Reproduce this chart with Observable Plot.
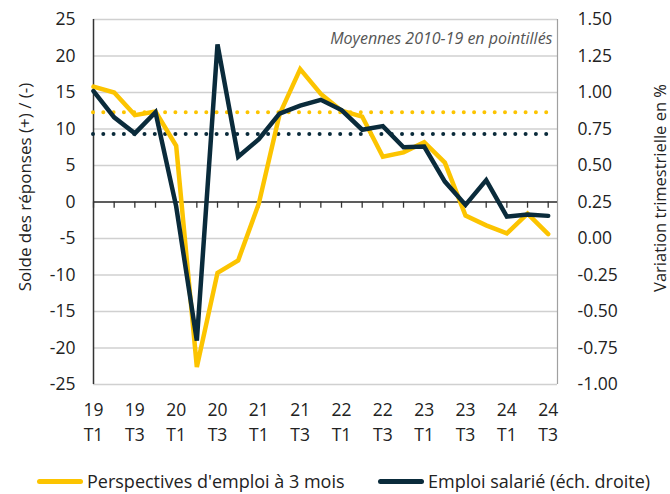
<!DOCTYPE html>
<html>
<head>
<meta charset="utf-8">
<script src="https://cdn.jsdelivr.net/npm/d3@7"></script>
<script src="https://cdn.jsdelivr.net/npm/@observablehq/plot@0.6"></script>
<style>
  html, body { margin: 0; padding: 0; background: #fff; }
  body { width: 670px; height: 494px; overflow: hidden; font-family: "Open Sans", sans-serif; color: #222; }
  #chart svg { display: block; }
  .legend { position: absolute; top: 469px; left: 0; width: 670px; height: 24px; font-size: 18px; line-height: 24px; }
  .item { position: absolute; top: 0; display: flex; align-items: center; height: 24px; white-space: nowrap; }
  .sw { display: inline-block; width: 46px; height: 5px; border-radius: 3px; margin-right: 4px; }
</style>
</head>
<body>
<div id="chart"></div>
<div class="legend">
  <div class="item" style="left:37px"><span class="sw" style="background:#fcc400"></span><span id="l1"></span></div>
  <div class="item" style="left:378px"><span class="sw" style="background:#0a2b3b"></span><span id="l2"></span></div>
</div>
<script>
// Categories: quarters 2019 T1 .. 2024 T3
const years    = ["19","19","19","19","20","20","20","20","21","21","21","21","22","22","22","22","23","23","23","23","24","24","24"];
const quarters = ["T1","T2","T3","T4","T1","T2","T3","T4","T1","T2","T3","T4","T1","T2","T3","T4","T1","T2","T3","T4","T1","T2","T3"];
// Series 1 (left axis): Perspectives d'emploi à 3 mois (solde)
const perspectives = [15.8, 15.0, 11.9, 12.4, 7.7, -22.6, -9.7, -8.0, -0.2, 12.0, 18.2, 14.8, 12.5, 11.7, 6.2, 6.8, 8.2, 5.4, -1.85, -3.2, -4.3, -1.6, -4.4];
// Series 2 (right axis): Emploi salarié, variation trimestrielle en %
const emploi = [1.01, 0.83, 0.72, 0.865, 0.22, -0.70, 1.33, 0.56, 0.68, 0.855, 0.91, 0.95, 0.88, 0.745, 0.77, 0.625, 0.63, 0.39, 0.23, 0.40, 0.15, 0.165, 0.155];
// 2010-19 averages (dotted)
const avgPerspectives = 12.3;
const avgEmploi = 0.715;
// Tick labels
const leftTicks = [25, 20, 15, 10, 5, 0, -5, -10, -15, -20, -25];
const rightTicks = ["1.50","1.25","1.00","0.75","0.50","0.25","0.00","-0.25","-0.50","-0.75","-1.00"];
const labelTicks = [0, 2, 4, 6, 8, 10, 12, 14, 16, 18, 20, 22];
const leftTitle = "Solde des réponses (+) / (-)";
const rightTitle = "Variation trimestrielle en %";
const note = "Moyennes 2010-19 en pointillés";
const legendLabels = ["Perspectives d'emploi à 3 mois", "Emploi salarié (éch. droite)"];

document.getElementById("l1").textContent = legendLabels[0];
document.getElementById("l2").textContent = legendLabels[1];

// right-axis value -> left-axis units
const toLeft = r => (r - 0.25) * 20;

const idx = d3.range(quarters.length);
const serie1 = idx.map(i => ({i, v: perspectives[i]}));
const serie2 = idx.map(i => ({i, v: toLeft(emploi[i])}));

const YELLOW = "#fcc400";
const DARK = "#0a2b3b";
const GRID = "#d0d0d0";
const TFS = 17.5;

const chart = Plot.plot({
  width: 670,
  height: 464,
  marginLeft: 93,
  marginRight: 113,
  marginTop: 19,
  marginBottom: 80,
  style: {fontFamily: "Open Sans, sans-serif", fontSize: "16px", color: "#222", background: "#fff", overflow: "visible"},
  x: {domain: [0, 22.45], axis: null},
  y: {domain: [-25, 25], axis: null},
  marks: [
    Plot.gridY(leftTicks, {stroke: GRID, strokeOpacity: 1, strokeWidth: 1.5}),
    Plot.ruleX([22.45], {stroke: "#a0a0a0", strokeWidth: 1.2}),
    Plot.ruleY([0], {stroke: "#333", strokeWidth: 1.3}),
    Plot.ruleX(idx, {x: d => d, y1: 0, y2: -0.85, stroke: "#333", strokeWidth: 1.3}),
    Plot.ruleX([0], {stroke: "#333", strokeWidth: 1.5}),
    Plot.ruleY([avgPerspectives], {x1: 0, x2: 22, stroke: YELLOW, strokeWidth: 4, strokeDasharray: "0 10.3", strokeLinecap: "round"}),
    Plot.ruleY([toLeft(avgEmploi)], {x1: 0, x2: 22, stroke: DARK, strokeWidth: 4, strokeDasharray: "0 10.3", strokeLinecap: "round"}),
    Plot.line(serie1, {x: "i", y: "v", stroke: YELLOW, strokeWidth: 4.5, strokeLinejoin: "miter", strokeMiterlimit: 3}),
    Plot.line(serie2, {x: "i", y: "v", stroke: DARK, strokeWidth: 4.5, strokeLinejoin: "miter", strokeMiterlimit: 3}),
    Plot.axisY(leftTicks, {anchor: "left", label: null, tickSize: 0, tickPadding: 18, tickFormat: d => String(d), fontSize: TFS, fill: "#222"}),
    Plot.axisY(leftTicks, {anchor: "right", label: null, tickSize: 0, tickPadding: 20, tickFormat: (d, k) => rightTicks[k], fontSize: TFS, fill: "#222"}),
    Plot.axisX(labelTicks, {anchor: "bottom", label: null, tickSize: 0, tickPadding: 19, tickFormat: d => years[d], fontSize: TFS, fill: "#222"}),
    Plot.axisX(labelTicks, {anchor: "bottom", label: null, tickSize: 0, tickPadding: 44, tickFormat: d => quarters[d], fontSize: TFS, fill: "#222"}),
    Plot.text([note], {frameAnchor: "top-right", dx: -5, dy: 19, lineAnchor: "middle", textAnchor: "end", fontStyle: "italic", fontSize: 16, fill: "#555"}),
    Plot.text([leftTitle], {frameAnchor: "left", textAnchor: "middle", dx: -68, dy: -15, rotate: -90, fontSize: 17, fill: "#222"}),
    Plot.text([rightTitle], {frameAnchor: "right", textAnchor: "middle", dx: 103, dy: -14, rotate: -90, fontSize: 16.5, fill: "#222"})
  ]
});
document.getElementById("chart").appendChild(chart);
</script>
</body>
</html>
